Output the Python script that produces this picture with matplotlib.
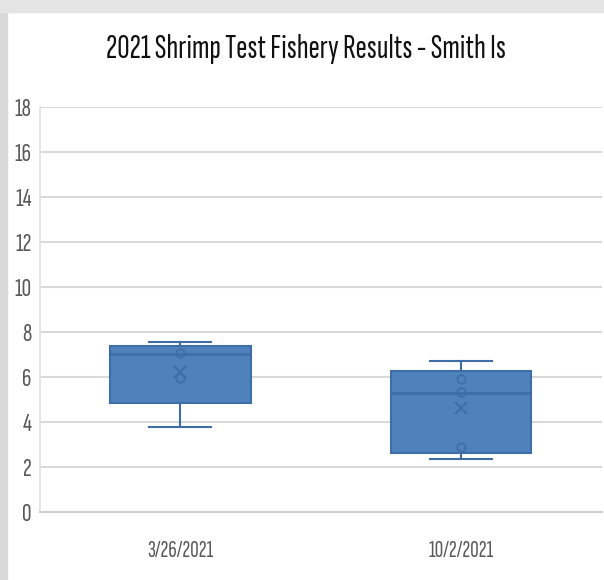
import matplotlib
matplotlib.use("Agg")
import matplotlib.pyplot as plt
from matplotlib.patches import Rectangle

categories = ["3/26/2021", "10/2/2021"]
whisker_low = [3.78, 2.36]
q1 = [4.84, 2.62]
median = [7.02, 5.29]
q3 = [7.38, 6.27]
whisker_high = [7.56, 6.71]
means = [6.25, 4.62]
inner_points = [[7.07, 5.96], [5.9, 5.33, 2.89]]
yticks = list(range(0, 19, 2))
title = "2021 Shrimp Test Fishery Results - Smith Is"

fill = "#4f81bd"
edge = "#3f6ea6"

FONT = ['Sofia Sans Extra Condensed', 'Roboto Condensed', 'DejaVu Sans']
plt.rcParams['font.family'] = FONT

fig = plt.figure(figsize=(6.04, 5.8), dpi=100)
fig.patch.set_facecolor("white")
# screenshot frame
fig.add_artist(Rectangle((0, 0), 0.012, 1, transform=fig.transFigure, color="#d8d8d8", zorder=0))
fig.add_artist(Rectangle((0, 0.979), 1, 0.021, transform=fig.transFigure, color="#e4e4e4", zorder=0))

ax = fig.add_axes([0.066, 0.117, 0.93, 0.698])

stats = []
for i in range(len(categories)):
    stats.append(dict(med=median[i], q1=q1[i], q3=q3[i], whislo=whisker_low[i],
                      whishi=whisker_high[i], mean=means[i], fliers=[], label=categories[i]))

ax.bxp(stats, positions=[0.5, 1.5], widths=0.5, patch_artist=True, showmeans=True,
       boxprops=dict(facecolor=fill, edgecolor=edge, linewidth=1.5),
       medianprops=dict(color=edge, linewidth=2),
       whiskerprops=dict(color=edge, linewidth=1.5),
       capprops=dict(color=edge, linewidth=1.5),
       capwidths=0.22,
       meanprops=dict(marker="x", markeredgecolor=edge, markersize=9, markeredgewidth=1.5),
       zorder=3)

for i, pts in enumerate(inner_points):
    ax.plot([i + 0.5] * len(pts), pts, linestyle="none", marker="o", markersize=6,
            markerfacecolor="none", markeredgecolor=edge, markeredgewidth=1.2, zorder=4)

ax.set_xlim(0, 2)
ax.set_ylim(0, 18)
ax.set_yticks(yticks)
ax.set_xticks([0.5, 1.5])
ax.set_xticklabels(categories)
ax.grid(axis="y", color="#d9d9d9", linewidth=1.5, zorder=0)
ax.set_axisbelow(True)
for s in ["top", "right"]:
    ax.spines[s].set_visible(False)
ax.spines["left"].set_color("#e2e2e2")
ax.spines["left"].set_linewidth(1.2)
ax.spines["bottom"].set_color("#cfcfcf")
ax.spines["bottom"].set_linewidth(1.5)
ax.tick_params(axis="both", length=0, colors="#595959")
ax.tick_params(axis="y", pad=6, labelsize=19)
ax.tick_params(axis="x", pad=20, labelsize=17)

fig.text(0.507, 0.915, title, ha="center", va="center", fontsize=24.5, color="#111111")

fig.savefig("out.png", dpi=100)
